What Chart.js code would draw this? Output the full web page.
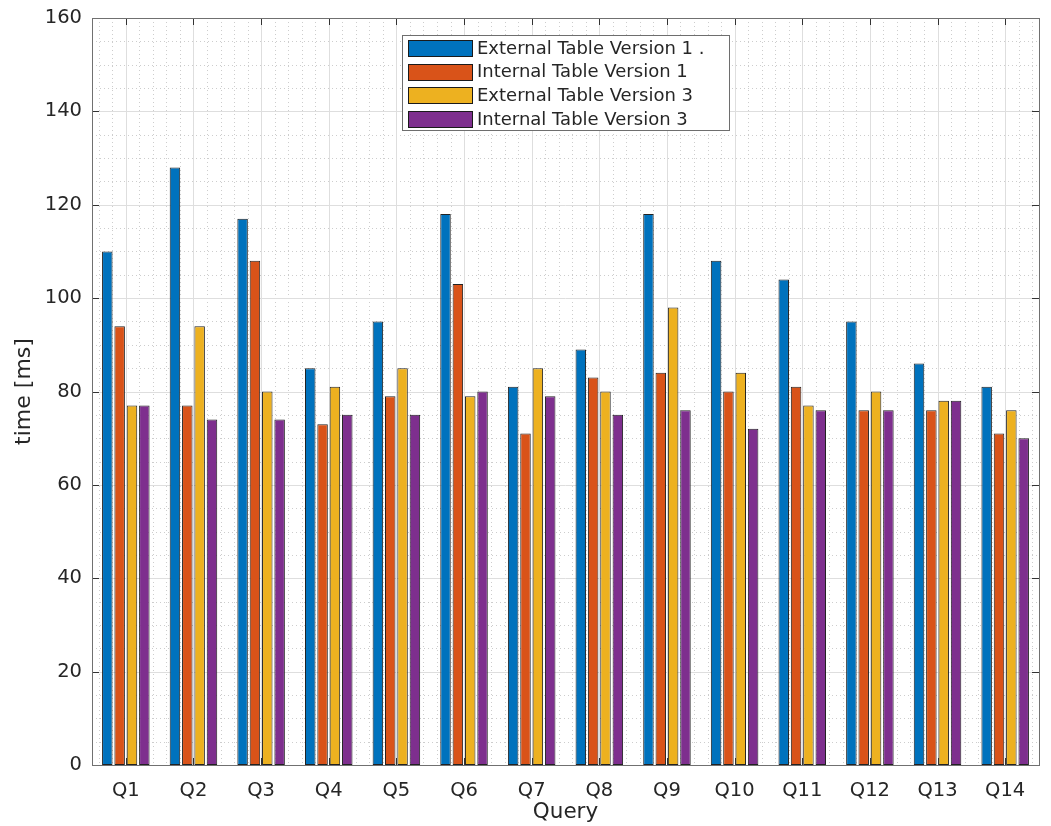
<!DOCTYPE html>
<html>
<head>
<meta charset="utf-8">
<script src="https://cdn.jsdelivr.net/npm/chart.js@4"></script>
<style>
  html, body { margin: 0; padding: 0; background: #fff; }
  canvas { display: block; }
</style>
</head>
<body>
<canvas id="queryChart" width="1051" height="826"></canvas>
<script>
const queries = ['Q1', 'Q2', 'Q3', 'Q4', 'Q5', 'Q6', 'Q7', 'Q8', 'Q9', 'Q10', 'Q11', 'Q12', 'Q13', 'Q14'];

const externalV1 = [110, 128, 117, 85, 95, 118, 81, 89, 118, 108, 104, 95, 86, 81];
const internalV1 = [94, 77, 108, 73, 79, 103, 71, 83, 84, 80, 81, 76, 76, 71];
const externalV3 = [77, 94, 80, 81, 85, 79, 85, 80, 98, 84, 77, 80, 78, 76];
const internalV3 = [77, 74, 74, 75, 75, 80, 79, 75, 76, 72, 76, 76, 78, 70];

const seriesNames = ['External Table Version 1 .', 'Internal Table Version 1', 'External Table Version 3', 'Internal Table Version 3'];
const seriesColors = ['#0072BD', '#D95319', '#EDB120', '#7E2F8E'];

const yMax = 160;
const yStep = 20;
const yMinorStep = 5;

const FONT = "'DejaVu Sans', sans-serif";
const TEXT = '#262626';

// grid, box, inward ticks and the boxed legend
const axesPlugin = {
    id: 'axesPlugin',
    beforeDatasetsDraw(chart) {
        const { ctx, chartArea: a, scales: { x, y } } = chart;
        ctx.save();
        ctx.lineWidth = 1;

        // minor dotted grid
        ctx.strokeStyle = '#cdcdcd';
        ctx.setLineDash([1, 3]);
        ctx.beginPath();
        for (let v = 0; v <= yMax; v += yMinorStep) {
            if (v % yStep === 0) continue;
            const py = Math.round(y.getPixelForValue(v)) + 0.5;
            ctx.moveTo(a.left, py);
            ctx.lineTo(a.right, py);
        }
        for (let k = -2; k <= queries.length * 5 - 3; k++) {
            if (k % 5 === 0) continue;
            const px = Math.round(x.getPixelForValue(k / 5)) + 0.5;
            ctx.moveTo(px, a.top);
            ctx.lineTo(px, a.bottom);
        }
        ctx.stroke();

        // major solid grid
        ctx.setLineDash([]);
        ctx.strokeStyle = '#dedede';
        ctx.beginPath();
        for (let v = yStep; v < yMax; v += yStep) {
            const py = Math.round(y.getPixelForValue(v)) + 0.5;
            ctx.moveTo(a.left, py);
            ctx.lineTo(a.right, py);
        }
        queries.forEach((q, i) => {
            const px = Math.round(x.getPixelForValue(i)) + 0.5;
            ctx.moveTo(px, a.top);
            ctx.lineTo(px, a.bottom);
        });
        ctx.stroke();
        ctx.restore();
    },
    afterDatasetsDraw(chart) {
        const { ctx, chartArea: a, scales: { x, y } } = chart;
        const tick = 7;
        ctx.save();
        ctx.lineWidth = 1;

        // inward tick marks on all four sides
        ctx.strokeStyle = '#333';
        ctx.beginPath();
        for (let v = yStep; v < yMax; v += yStep) {
            const py = Math.round(y.getPixelForValue(v)) + 0.5;
            ctx.moveTo(a.left, py);
            ctx.lineTo(a.left + tick, py);
            ctx.moveTo(a.right, py);
            ctx.lineTo(a.right - tick, py);
        }
        queries.forEach((q, i) => {
            const px = Math.round(x.getPixelForValue(i)) + 0.5;
            ctx.moveTo(px, a.bottom);
            ctx.lineTo(px, a.bottom - tick);
            ctx.moveTo(px, a.top);
            ctx.lineTo(px, a.top + tick);
        });
        ctx.stroke();

        // axes box
        ctx.strokeStyle = '#707070';
        ctx.strokeRect(Math.round(a.left) + 0.5, Math.round(a.top) + 0.5,
            Math.round(a.right - a.left), Math.round(a.bottom - a.top));

        // legend
        const lx = 402, ly = 35, lw = 327, lh = 95;
        ctx.fillStyle = '#fff';
        ctx.fillRect(lx, ly, lw, lh);
        ctx.strokeStyle = '#6e6e6e';
        ctx.strokeRect(lx + 0.5, ly + 0.5, lw, lh);
        ctx.font = '18px ' + FONT;
        ctx.textBaseline = 'middle';
        chart.data.datasets.forEach((ds, i) => {
            const cy = 48 + i * 23.7;
            ctx.fillStyle = ds.backgroundColor;
            ctx.fillRect(408, Math.round(cy - 8), 64, 16);
            ctx.strokeStyle = '#1a1a1a';
            ctx.strokeRect(408.5, Math.round(cy - 8) + 0.5, 64, 16);
            ctx.fillStyle = TEXT;
            ctx.fillText(ds.label, 477, cy + 1);
        });
        ctx.restore();
    }
};

const seriesData = [externalV1, internalV1, externalV3, internalV3];

new Chart(document.getElementById('queryChart'), {
    type: 'bar',
    data: {
        labels: queries,
        datasets: seriesData.map((values, i) => ({
            label: seriesNames[i],
            data: values,
            backgroundColor: seriesColors[i],
            borderColor: '#222',
            borderWidth: 1,
            borderSkipped: false,
            inflateAmount: 0,
            categoryPercentage: 0.73,
            barPercentage: 0.85
        }))
    },
    options: {
        responsive: false,
        animation: false,
        layout: { padding: { top: 18, right: 12, left: 0, bottom: 0 } },
        plugins: {
            legend: { display: false },
            tooltip: { enabled: false }
        },
        scales: {
            x: {
                grid: { display: false, drawTicks: false },
                border: { display: false },
                ticks: { color: TEXT, font: { family: FONT, size: 19.5 }, padding: 14 },
                title: {
                    display: true, text: 'Query', color: TEXT,
                    font: { family: FONT, size: 21.5 }, padding: { top: 0, bottom: 1 }
                },
                afterFit(scale) { scale.height = 61; }
            },
            y: {
                min: 0,
                max: yMax,
                grid: { display: false, drawTicks: false },
                border: { display: false },
                ticks: { stepSize: yStep, color: TEXT, font: { family: FONT, size: 19.5 }, padding: 10 },
                title: {
                    display: true, text: 'time [ms]', color: TEXT,
                    font: { family: FONT, size: 22 }, padding: { top: 11, bottom: 0 }
                },
                afterFit(scale) {
                    scale.width = 92;
                    scale.paddingTop = 0;
                    scale.paddingBottom = 0;
                }
            }
        }
    },
    plugins: [axesPlugin]
});
</script>
</body>
</html>
